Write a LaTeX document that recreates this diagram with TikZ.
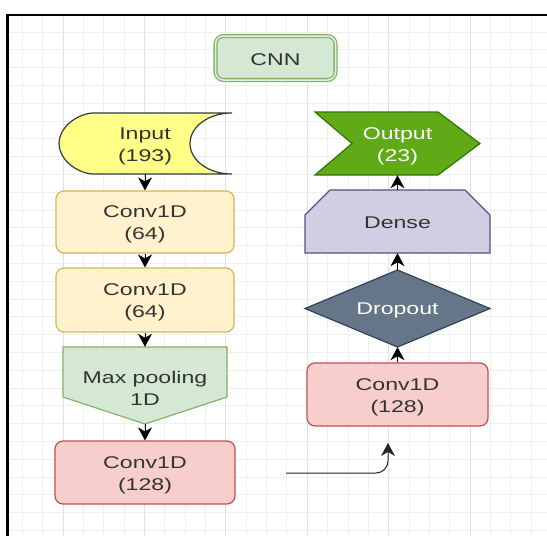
\documentclass[tikz,border=0pt]{standalone}
\usepackage{fontspec}
\setmainfont{Liberation Sans}
\usepackage{graphicx}
\usetikzlibrary{arrows.meta}
\definecolor{txt}{HTML}{333333}
\definecolor{yelF}{HTML}{FFFF88}
\definecolor{yelS}{HTML}{36393D}
\definecolor{crF}{HTML}{FFF2CC}
\definecolor{crS}{HTML}{D6B656}
\definecolor{grF}{HTML}{D5E8D4}
\definecolor{grS}{HTML}{82B366}
\definecolor{rdF}{HTML}{F8CECC}
\definecolor{rdS}{HTML}{B85450}
\definecolor{outF}{HTML}{60A917}
\definecolor{outS}{HTML}{2D7600}
\definecolor{dnF}{HTML}{D0CEE2}
\definecolor{dnS}{HTML}{56517E}
\definecolor{drF}{HTML}{647687}
\definecolor{drS}{HTML}{314354}
\definecolor{gridMinor}{HTML}{EFEFEF}
\definecolor{gridMajor}{HTML}{E0E0E0}
\newcommand{\onel}[1]{\raisebox{-1.5pt}[\height][\depth]{\scalebox{1.36}[1]{#1}}}
\newcommand{\twol}[3][2.5pt]{\raisebox{-#1}[\height][\depth]{\scalebox{1.36}[1]{\begin{tabular}{@{}c@{}}#2\\[1.5pt]#3\end{tabular}}}}
\tikzset{
  lbl/.style={inner sep=0pt, font=\fontsize{17}{20.5}\selectfont, text=txt},
  box/.style={lbl, draw, rounded corners=8pt, line width=1.2pt},
  shp/.style={line width=1.2pt, line join=miter},
  arr/.style={-{Stealth[length=13pt,width=14pt,inset=4pt]}, line width=1pt, draw=black},
}
\begin{document}
\begin{tikzpicture}[x=1pt,y=-1pt]
\useasboundingbox (0,0) rectangle (547,536);
\fill[white] (0,0) rectangle (547,536);
% grid
\foreach \k in {0,...,26} {
  \pgfmathsetmacro{\xx}{22.3+20.35*\k}
  \draw[gridMinor, line width=0.8pt] (\xx,16) -- (\xx,536);
}
\foreach \k in {0,...,5} {
  \pgfmathsetmacro{\xx}{63+81.4*\k}
  \draw[gridMajor, line width=1pt] (\xx,16) -- (\xx,536);
}
\foreach \k in {0,...,28} {
  \pgfmathsetmacro{\yy}{32+17.8*\k}
  \draw[gridMinor, line width=0.8pt] (8,\yy) -- (547,\yy);
}
% frame
\draw[black, line width=2.5pt] (7.5,536) -- (7.5,15) -- (547,15);

% CNN
\node[box, draw=grS, fill=grF, double=grF!70!white, double distance=1.5pt, line width=1.3pt,
      minimum width=120pt, minimum height=44pt] (cnn) at (275.5,58) {\onel{CNN}};

% Input (stored data)
\path[shp, draw=yelS, fill=yelF]
  (92,113) -- (232,113)
  .. controls (208,113) and (190,127) .. (190,143.5)
  .. controls (190,160) and (208,174) .. (232,174)
  -- (92,174)
  .. controls (74,172) and (59,158) .. (59,143.5)
  .. controls (59,129) and (74,115) .. (92,113) -- cycle;
\node[lbl, minimum width=173pt, minimum height=61pt] (inp) at (145,143.5) {\twol{Input}{(193)}};

% Conv1D (64) x2
\node[box, draw=crS, fill=crF, minimum width=178pt, minimum height=62pt] (c1) at (145,222) {\twol{Conv1D}{(64)}};
\node[box, draw=crS, fill=crF, minimum width=178pt, minimum height=64pt] (c2) at (145,300) {\twol{Conv1D}{(64)}};

% Max pooling (off-page connector)
\path[shp, draw=grS, fill=grF] (63,347) -- (227,347) -- (227,397) -- (145,424) -- (63,397) -- cycle;
\node[lbl, minimum width=164pt, minimum height=77pt] (mp) at (145,385.5) {\twol[4.5pt]{Max pooling}{1D}};

% Conv1D (128) left
\node[box, draw=rdS, fill=rdF, minimum width=180pt, minimum height=63pt] (c3) at (145,472.5) {\twol{Conv1D}{(128)}};

% Output (step)
\path[shp, draw=outS, fill=outF] (315,112) -- (438,112) -- (480,143.5) -- (438,175) -- (315,175) -- (352,143.5) -- cycle;
\node[lbl, text=white, minimum width=165pt, minimum height=63pt] (out) at (397.5,143.5) {\twol{Output}{(23)}};

% Dense (loop limit)
\path[shp, draw=dnS, fill=dnF] (330,190) -- (465,190) -- (490,215) -- (490,253) -- (305,253) -- (305,215) -- cycle;
\node[lbl, minimum width=185pt, minimum height=63pt] (dense) at (397.5,221.5) {\onel{Dense}};

% Dropout (diamond)
\path[shp, draw=drS, fill=drF] (397.5,270) -- (490,308.5) -- (397.5,347) -- (305,308.5) -- cycle;
\node[lbl, text=white, minimum width=185pt, minimum height=77pt] (drop) at (397.5,308.5) {\onel{Dropout}};

% Conv1D (128) right
\node[box, draw=rdS, fill=rdF, minimum width=181pt, minimum height=63pt] (c4) at (397.5,394.5) {\twol{Conv1D}{(128)}};

% connectors
\draw[arr] (inp.south) -- (c1.north);
\draw[arr] (c1.south) -- (c2.north);
\draw[arr] (c2.south) -- (mp.north);
\draw[arr] (mp.south) -- (c3.north);
\draw[arr] (c4.north) -- (drop.south);
\draw[arr] (drop.north) -- (dense.south);
\draw[arr] (dense.north) -- (out.south);

\coordinate (s) at (286,473);
\coordinate (t) at (388,443);
\draw[arr, line width=1pt, draw=black!85, rounded corners=12pt] (s) -- (s -| t) -- (t);
\end{tikzpicture}
\end{document}
